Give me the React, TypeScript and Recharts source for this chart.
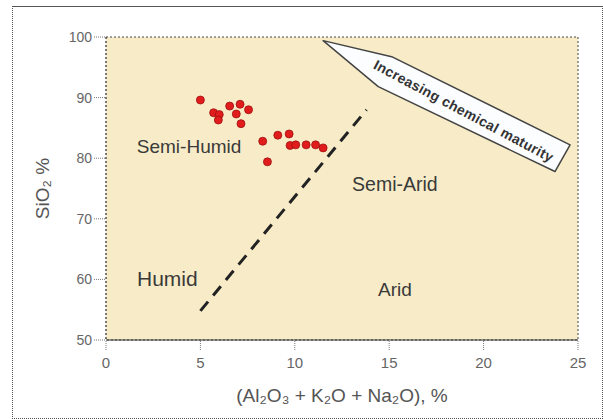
import React from "react";
import {
  ScatterChart,
  Scatter,
  XAxis,
  YAxis,
  ReferenceArea,
  ReferenceLine,
  ReferenceDot,
} from "recharts";

// sample compositions: x = Al2O3 + K2O + Na2O (%), y = SiO2 (%)
const oxideSum = [5.0, 5.7, 6.0, 5.95, 6.55, 7.1, 6.9, 7.55, 7.15, 8.3, 9.1, 9.7, 9.75, 10.05, 10.6, 11.1, 11.5, 8.55];
const silica = [89.6, 87.5, 87.2, 86.3, 88.6, 88.9, 87.3, 88.0, 85.7, 82.8, 83.8, 84.0, 82.1, 82.2, 82.2, 82.2, 81.7, 79.4];

const xTicks = [0, 5, 10, 15, 20, 25];
const yTicks = [50, 60, 70, 80, 90, 100];

// climate boundary (dashed)
const boundaryX = [5.0, 13.8];
const boundaryY = [54.8, 88.0];

// field labels
const fieldNames = ["Semi-Humid", "Semi-Arid", "Humid", "Arid"];
const fieldX = [4.4, 15.3, 3.25, 15.3];
const fieldY = [81.9, 75.7, 60.1, 58.4];
const fieldSize = [19, 19.5, 21, 19];

// arrow outline, in data units
const arrowX = [11.5, 15.13, 24.58, 23.78, 14.42];
const arrowY = [99.4, 96.75, 82.2, 77.8, 91.8];

const points = oxideSum.map((x, i) => ({ x, y: silica[i] }));

const FONT = "'Liberation Sans', Arial, sans-serif";

const arrowShape = (props: any) => {
  const { x, y, width, height } = props;
  const xMin = Math.min(...arrowX);
  const xMax = Math.max(...arrowX);
  const yMin = Math.min(...arrowY);
  const yMax = Math.max(...arrowY);
  const px = (v: number) => x + ((v - xMin) / (xMax - xMin)) * width;
  const py = (v: number) => y + ((yMax - v) / (yMax - yMin)) * height;
  const pts = arrowX.map((v, i) => `${px(v)},${py(arrowY[i])}`).join(" ");
  const cx = (px(arrowX[1]) + px(arrowX[2]) + px(arrowX[3]) + px(arrowX[4])) / 4 - 10;
  const cy = (py(arrowY[1]) + py(arrowY[2]) + py(arrowY[3]) + py(arrowY[4])) / 4 - 4;
  return (
    <g>
      <polygon points={pts} fill="#fbfdff" stroke="#444" strokeWidth={1.5} strokeLinejoin="round" />
      <text
        x={cx}
        y={cy}
        transform={`rotate(28 ${cx} ${cy})`}
        textAnchor="middle"
        dominantBaseline="central"
        fontFamily={FONT}
        fontWeight="bold"
        fontSize={14}
        letterSpacing={0.3}
        fill="#333"
      >
        Increasing chemical maturity
      </text>
    </g>
  );
};

const fieldLabel = (i: number) => (props: any) => (
  <text
    x={props.cx}
    y={props.cy}
    textAnchor="middle"
    dominantBaseline="central"
    fontFamily={FONT}
    fontSize={fieldSize[i]}
    fill="#3a3a3a"
  >
    {fieldNames[i]}
  </text>
);

const yLabel = (props: any) => {
  const vb = props.viewBox;
  const lx = vb.x - 4;
  const ly = vb.y + vb.height / 2;
  return (
    <text
      x={lx}
      y={ly}
      transform={`rotate(-90 ${lx} ${ly})`}
      textAnchor="middle"
      dominantBaseline="central"
      fontFamily={FONT}
      fontSize={19}
      fill="#555"
    >
      SiO₂ %
    </text>
  );
};

const Dot = (props: any) => (
  <circle cx={props.cx} cy={props.cy} r={4} fill="#e01c1c" stroke="#a01010" strokeWidth={0.8} />
);

export default function App() {
  return (
    <div
      style={{
        position: "absolute",
        left: 0,
        top: 0,
        width: 603,
        height: 419,
        background: "#fff",
      }}
    >
      <div
        style={{
          position: "absolute",
          left: 12,
          top: 6,
          width: 589,
          height: 411,
          borderLeft: "1px dotted #555",
          borderRight: "1px dotted #555",
          borderBottom: "1px dotted #555",
          borderTop: "1px solid #555",
        }}
      />
      <ScatterChart
        width={603}
        height={419}
        margin={{ top: 37, right: 25, left: 46, bottom: 29 }}
        style={{ position: "absolute", left: 0, top: 0 }}
      >
        <ReferenceArea
          x1={0}
          x2={25}
          y1={50}
          y2={100}
          fill="#f8ecc8"
          fillOpacity={1}
          stroke="#444"
          strokeDasharray="2 2"
        />
        <XAxis
          type="number"
          dataKey="x"
          domain={[0, 25]}
          ticks={xTicks}
          height={50}
          tickSize={10}
          stroke="#333"
          tickLine={{ stroke: "#777", strokeDasharray: "1 1" }}
          tick={{ fill: "#666", fontSize: 15, fontFamily: FONT, dy: 5 }}
          label={{
            value: "(Al₂O₃ + K₂O + Na₂O), %",
            position: "insideBottom",
            offset: -12,
            fill: "#555",
            fontSize: 19,
            fontFamily: FONT,
          }}
        />
        <YAxis
          type="number"
          dataKey="y"
          domain={[50, 100]}
          ticks={yTicks}
          width={60}
          tickSize={12}
          stroke="#555"
          axisLine={{ stroke: "#555", strokeDasharray: "2 2" }}
          tickLine={{ stroke: "#777", strokeDasharray: "1 1" }}
          tick={{ fill: "#666", fontSize: 14, fontFamily: FONT }}
          label={{ content: yLabel }}
        />
        <ReferenceArea
          x1={Math.min(...arrowX)}
          x2={Math.max(...arrowX)}
          y1={Math.min(...arrowY)}
          y2={Math.max(...arrowY)}
          shape={arrowShape}
        />
        <ReferenceLine
          segment={[
            { x: boundaryX[0], y: boundaryY[0] },
            { x: boundaryX[1], y: boundaryY[1] },
          ]}
          stroke="#222"
          strokeWidth={3}
          strokeDasharray="12 8"
        />
        {fieldNames.map((name, i) => (
          <ReferenceDot key={name} x={fieldX[i]} y={fieldY[i]} r={0} shape={fieldLabel(i)} />
        ))}
        <Scatter data={points} shape={Dot} isAnimationActive={false} />
      </ScatterChart>
    </div>
  );
}
